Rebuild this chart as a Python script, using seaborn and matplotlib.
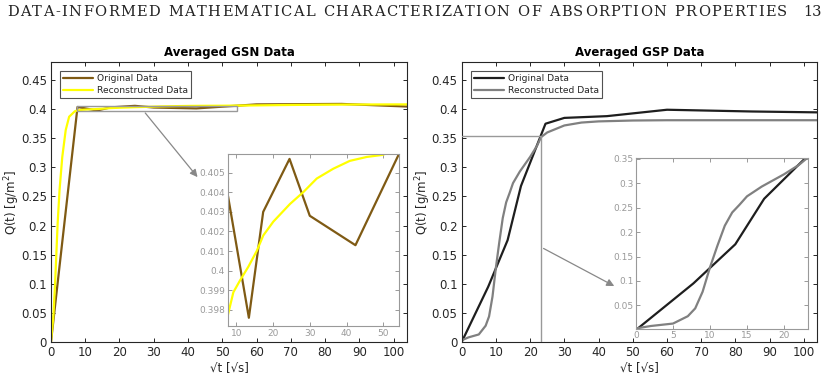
import numpy as np
import pandas as pd
import matplotlib
matplotlib.use("Agg")
import matplotlib.pyplot as plt
import seaborn as sns

# sqrt(t) sample points of the measured data
t_sqrt = [0, 7.75, 13.42, 17.32, 24.49, 30.0, 42.43, 60.0, 84.85, 103.92]
gsn_orig = [0, 0.4038, 0.3976, 0.4030, 0.4057, 0.4028, 0.4013, 0.4082, 0.4090, 0.4045]
gsp_orig = [0, 0.095, 0.175, 0.268, 0.375, 0.385, 0.388, 0.399, 0.396, 0.3945]

# reconstructed curves
gsn_rec_x = [0, 0.7, 1.2, 1.95, 2.5, 3.3, 4.3, 5.3, 7.0, 7.66, 9.2, 11.0, 13.27, 15.55,
             17.35, 20.07, 24.6, 28.2, 31.9, 36.4, 40.9, 45.5, 49.6, 60, 70, 80, 90, 103.92]
gsn_rec = [0, 0.045, 0.10, 0.204, 0.261, 0.318, 0.364, 0.387, 0.3965, 0.3977, 0.3989,
           0.3995, 0.4002, 0.4010, 0.4018, 0.4025, 0.4034, 0.4040, 0.4047, 0.4052,
           0.4056, 0.4058, 0.4059, 0.4065, 0.4072, 0.4077, 0.4080, 0.4082]

gsp_rec_x = [0, 2, 5, 7, 8, 9, 10, 11, 12, 13, 14, 15, 17, 20, 22, 23.2, 25, 30, 35,
             40, 50, 60, 80, 103.92]
gsp_rec = [0.003, 0.008, 0.013, 0.028, 0.044, 0.078, 0.128, 0.172, 0.213, 0.240, 0.256,
           0.273, 0.293, 0.318, 0.337, 0.352, 0.360, 0.372, 0.377, 0.379, 0.3805, 0.381,
           0.381, 0.381]

yticks_main = [0, 0.05, 0.1, 0.15, 0.2, 0.25, 0.3, 0.35, 0.4, 0.45]
ytick_labels = ["0", "0.05", "0.1", "0.15", "0.2", "0.25", "0.3", "0.35", "0.4", "0.45"]

header = "DATA-INFORMED MATHEMATICAL CHARACTERIZATION OF ABSORPTION PROPERTIES"

sns.set_theme(style="white")
plt.rcParams["font.family"] = ["DejaVu Sans"]

BROWN = "#7f5a14"
YELLOW = "#ffff00"
DARK = "#1e1e1e"
GREY = "#808080"
AX = "#262626"

fig = plt.figure(figsize=(8.37, 3.83), dpi=100)


def style_axes(ax, col=AX, lab=AX, size=8.5):
    for s in ax.spines.values():
        s.set_color(col)
        s.set_linewidth(0.8)
    ax.tick_params(direction="in", length=3, width=0.7, color=col, labelcolor=lab,
                   labelsize=size, top=True, right=True, bottom=True, left=True, pad=3)


def main_panel(rect, title, orig, rec_x, rec, c1, c2):
    ax = fig.add_axes(rect)
    df_o = pd.DataFrame({"x": t_sqrt, "y": orig})
    df_r = pd.DataFrame({"x": rec_x, "y": rec})
    sns.lineplot(data=df_o, x="x", y="y", ax=ax, color=c1, lw=1.6, label="Original Data",
                 sort=False, estimator=None)
    sns.lineplot(data=df_r, x="x", y="y", ax=ax, color=c2, lw=1.6, label="Reconstructed Data",
                 sort=False, estimator=None)
    ax.set_xlim(0, 103.92)
    ax.set_ylim(0, 0.481)
    ax.set_xticks(range(0, 101, 10))
    ax.set_yticks(yticks_main)
    ax.set_yticklabels(ytick_labels)
    ax.set_xlabel("\u221at [\u221as]", fontsize=8.5, color=AX, labelpad=1)
    ax.set_ylabel("Q(t) [g/m$^2$]", fontsize=8.5, color=AX, labelpad=-1)
    ax.set_title(title, fontsize=8.5, fontweight="bold", color="black", pad=4)
    style_axes(ax)
    leg = ax.legend(loc="upper left", bbox_to_anchor=(0.025, 0.968), fontsize=6.6,
                    handlelength=3.3, handletextpad=0.4, borderpad=0.35, labelspacing=0.3,
                    frameon=True, fancybox=False, borderaxespad=0)
    leg.get_frame().set_edgecolor(AX)
    leg.get_frame().set_linewidth(0.8)
    return ax


# ---- left: GSN
ax1 = main_panel([0.0609, 0.1070, 0.4254, 0.7311], "Averaged GSN Data",
                 gsn_orig, gsn_rec_x, gsn_rec, BROWN, YELLOW)
ax1.add_patch(plt.Rectangle((7.65, 0.3972), 54.35 - 7.65, 0.4060 - 0.3972,
                            fill=False, ec="#999999", lw=1.0, zorder=5))

ins1 = fig.add_axes([0.2720, 0.1488, 0.2050, 0.4491])
sns.lineplot(x=t_sqrt, y=gsn_orig, ax=ins1, color=BROWN, lw=1.6, sort=False, estimator=None)
sns.lineplot(x=gsn_rec_x, y=gsn_rec, ax=ins1, color=YELLOW, lw=1.6, sort=False, estimator=None)
ins1.set_xlim(7.65, 54.35)
ins1.set_ylim(0.39718, 0.40595)
ins1.set_xticks([10, 20, 30, 40, 50])
ins1.set_yticks([0.398, 0.399, 0.4, 0.401, 0.402, 0.403, 0.404, 0.405])
ins1.set_yticklabels(["0.398", "0.399", "0.4", "0.401", "0.402", "0.403", "0.404", "0.405"])
style_axes(ins1, col="#999999", lab="#999999", size=6.5)
ins1.tick_params(pad=2)
ax1.annotate("", xy=(0.2381, 0.5319), xycoords="figure fraction",
             xytext=(27, 0.3972), textcoords="data",
             arrowprops=dict(arrowstyle="-|>", color="#888888", lw=0.9, mutation_scale=11))

# ---- right: GSP
ax2 = main_panel([0.5516, 0.1070, 0.4249, 0.7311], "Averaged GSP Data",
                 gsp_orig, gsp_rec_x, gsp_rec, DARK, GREY)
ax2.plot([0, 23.2, 23.2], [0.3535, 0.3535, 0], color="#999999", lw=1.0, zorder=5)

ins2 = fig.add_axes([0.7599, 0.1418, 0.2059, 0.4465])
sns.lineplot(x=t_sqrt, y=gsp_orig, ax=ins2, color=DARK, lw=1.6, sort=False, estimator=None)
sns.lineplot(x=gsp_rec_x, y=gsp_rec, ax=ins2, color=GREY, lw=1.6, sort=False, estimator=None)
ins2.set_xlim(0, 23.3)
ins2.set_ylim(0.0025, 0.352)
ins2.set_xticks([0, 5, 10, 15, 20])
ins2.set_yticks([0.05, 0.1, 0.15, 0.2, 0.25, 0.3, 0.35])
ins2.set_yticklabels(["0.05", "0.1", "0.15", "0.2", "0.25", "0.3", "0.35"])
style_axes(ins2, col="#999999", lab="#999999", size=6.5)
ins2.tick_params(pad=2)
ax2.annotate("", xy=(0.7368, 0.2497), xycoords="figure fraction",
             xytext=(23.2, 0.163), textcoords="data",
             arrowprops=dict(arrowstyle="-|>", color="#888888", lw=0.9, mutation_scale=11))

# page header, letter-spaced to span the page width
W, H = 837, 383
renderer = fig.canvas.get_renderer()
hy = 1 - 12 / H
hsize = 10.5
chars = []
for ch in header:
    if ch == " ":
        chars.append((None, 5.5))
        continue
    t = fig.text(0, hy, ch, fontsize=hsize, family=["DejaVu Serif"], va="center",
                 ha="left", color="#222222")
    chars.append((t, t.get_window_extent(renderer).width))
natural = sum(w for _, w in chars)
track = (787 - 7 - natural) / (len(chars) - 1)
x = 7.0
for t, w in chars:
    if t is not None:
        t.set_x(x / W)
    x += w + track
fig.text(822 / W, hy, "13", fontsize=hsize, family=["DejaVu Serif"],
         va="center", ha="right", color="#222222")

fig.savefig("out.png", dpi=100)
